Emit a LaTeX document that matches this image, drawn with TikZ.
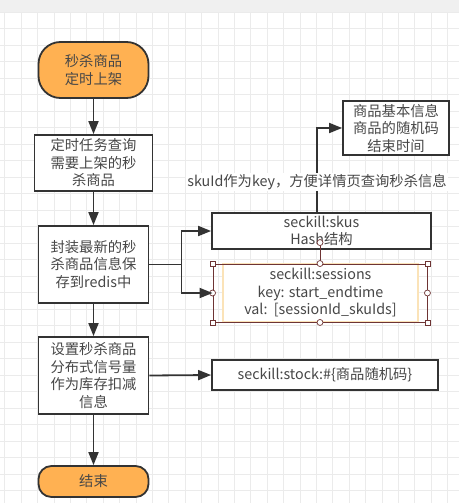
\documentclass[tikz,border=0pt]{standalone}
\usepackage{fontspec}
\setmainfont{Noto Sans CJK SC}
\definecolor{terminal}{HTML}{FFB152}
\definecolor{ink}{HTML}{333333}
\definecolor{gridline}{HTML}{EBEBEB}
\definecolor{topbar}{HTML}{F0F0F0}
\definecolor{handle}{HTML}{6E3434}
\definecolor{selected}{HTML}{FBE3B8}
\usetikzlibrary{arrows.meta, positioning}

\tikzset{
  procbox/.style={draw=ink, line width=1.8pt, fill=white, text=ink!90, align=center,
                  inner sep=1pt, font=\fontsize{14.3}{17.5}\selectfont},
  termbox/.style={procbox, fill=terminal, rounded corners=22pt},
  sessbox/.style={procbox, draw=selected, line width=1.2pt},
  selframe/.style={draw=handle, line width=0.9pt, inner sep=0pt},
  sqhandle/.style={draw=handle, fill=white, line width=0.7pt, minimum size=5pt, inner sep=0pt},
  circhandle/.style={sqhandle, circle, minimum size=6pt},
  flow/.style={draw=ink, line width=1.8pt, -{Triangle[length=13pt, width=10pt]}},
  flowlabel/.style={fill=white, text=ink!90, inner sep=1pt, font=\fontsize{14.3}{17}\selectfont}
}

\begin{document}
\begin{tikzpicture}[x=1pt, y=-1pt]
\useasboundingbox (0,0) rectangle (459,503);
% canvas grid
\begin{scope}
  \clip (0,0) rectangle (459,503);
  \fill[white] (0,0) rectangle (459,503);
  \foreach \gx in {0,...,28} \draw[gridline, line width=0.8pt] (4.7+16.4*\gx,12) -- (4.7+16.4*\gx,503);
  \foreach \gy in {0,...,30} \draw[gridline, line width=0.8pt] (0,12.3+16.5*\gy) -- (459,12.3+16.5*\gy);
  \fill[topbar] (0,0) rectangle (459,12);
\end{scope}

% main flow
\node[termbox, minimum width=110pt, minimum height=56pt] (shelf) at (93.5,70) {秒杀商品\\定时上架};
\node[procbox, minimum width=118pt, minimum height=56pt] (query) at (93.5,163) {定时任务查询\\需要上架的秒\\杀商品};
\node[procbox, minimum width=110pt, minimum height=77pt] (cache) at (93.5,264.5) {封装最新的秒\\杀商品信息保\\存到redis中};
\node[procbox, minimum width=110pt, minimum height=77pt] (semaphore) at (93.5,375.5) {设置秒杀商品\\分布式信号量\\作为库存扣减\\信息};
\node[termbox, minimum width=110pt, minimum height=31pt, rounded corners=13pt] (done) at (93.5,481.5) {结束};

% redis keys
\node[procbox, minimum width=106pt, minimum height=54pt] (info) at (396,128) {商品基本信息\\商品的随机码\\结束时间};
\node[procbox, minimum width=219pt, minimum height=36pt] (skus) at (321.5,231) {seckill:skus\\Hash结构};
\node[sessbox, minimum width=195pt, minimum height=58pt] (sessions) at (320.5,293)
  {seckill:sessions\\key: start\_endtime\\val:\ \ [sessionId\_skuIds]};
\node[procbox, minimum width=226pt, minimum height=30pt] (stockkey) at (325,375) {seckill:stock:\#\{商品随机码\}};

% selection handles
\node[selframe, minimum width=214pt, minimum height=58pt] (frame) at (320,293) {};
\draw[handle, line width=0.7pt] (frame.north) -- ++(0,-21) node[circhandle] (spin) {};
\foreach \a in {north west, north east, south west, south east}
  \node[sqhandle] (hd-\a) at (frame.\a) {};
\foreach \a in {north, south, west, east}
  \node[circhandle] (hc-\a) at (frame.\a) {};

% connectors
\draw[flow] (shelf) -- (query);
\draw[flow] (query) -- (cache);
\draw[flow] (cache) -- (semaphore);
\draw[flow] (semaphore) -- (done);
\draw[flow] (cache.east) -- ++(32,0) |- (skus.west);
\draw[flow] (cache.east) -- ++(32,0) |- (frame.west);
\draw[flow] ([xshift=-4.5pt]skus.north) |- node[flowlabel, pos=0.18] (keynote) {skuId作为key，方便详情页查询秒杀信息} (info.west);
\draw[flow] (semaphore.east) -- (stockkey.west);
\end{tikzpicture}
\end{document}
